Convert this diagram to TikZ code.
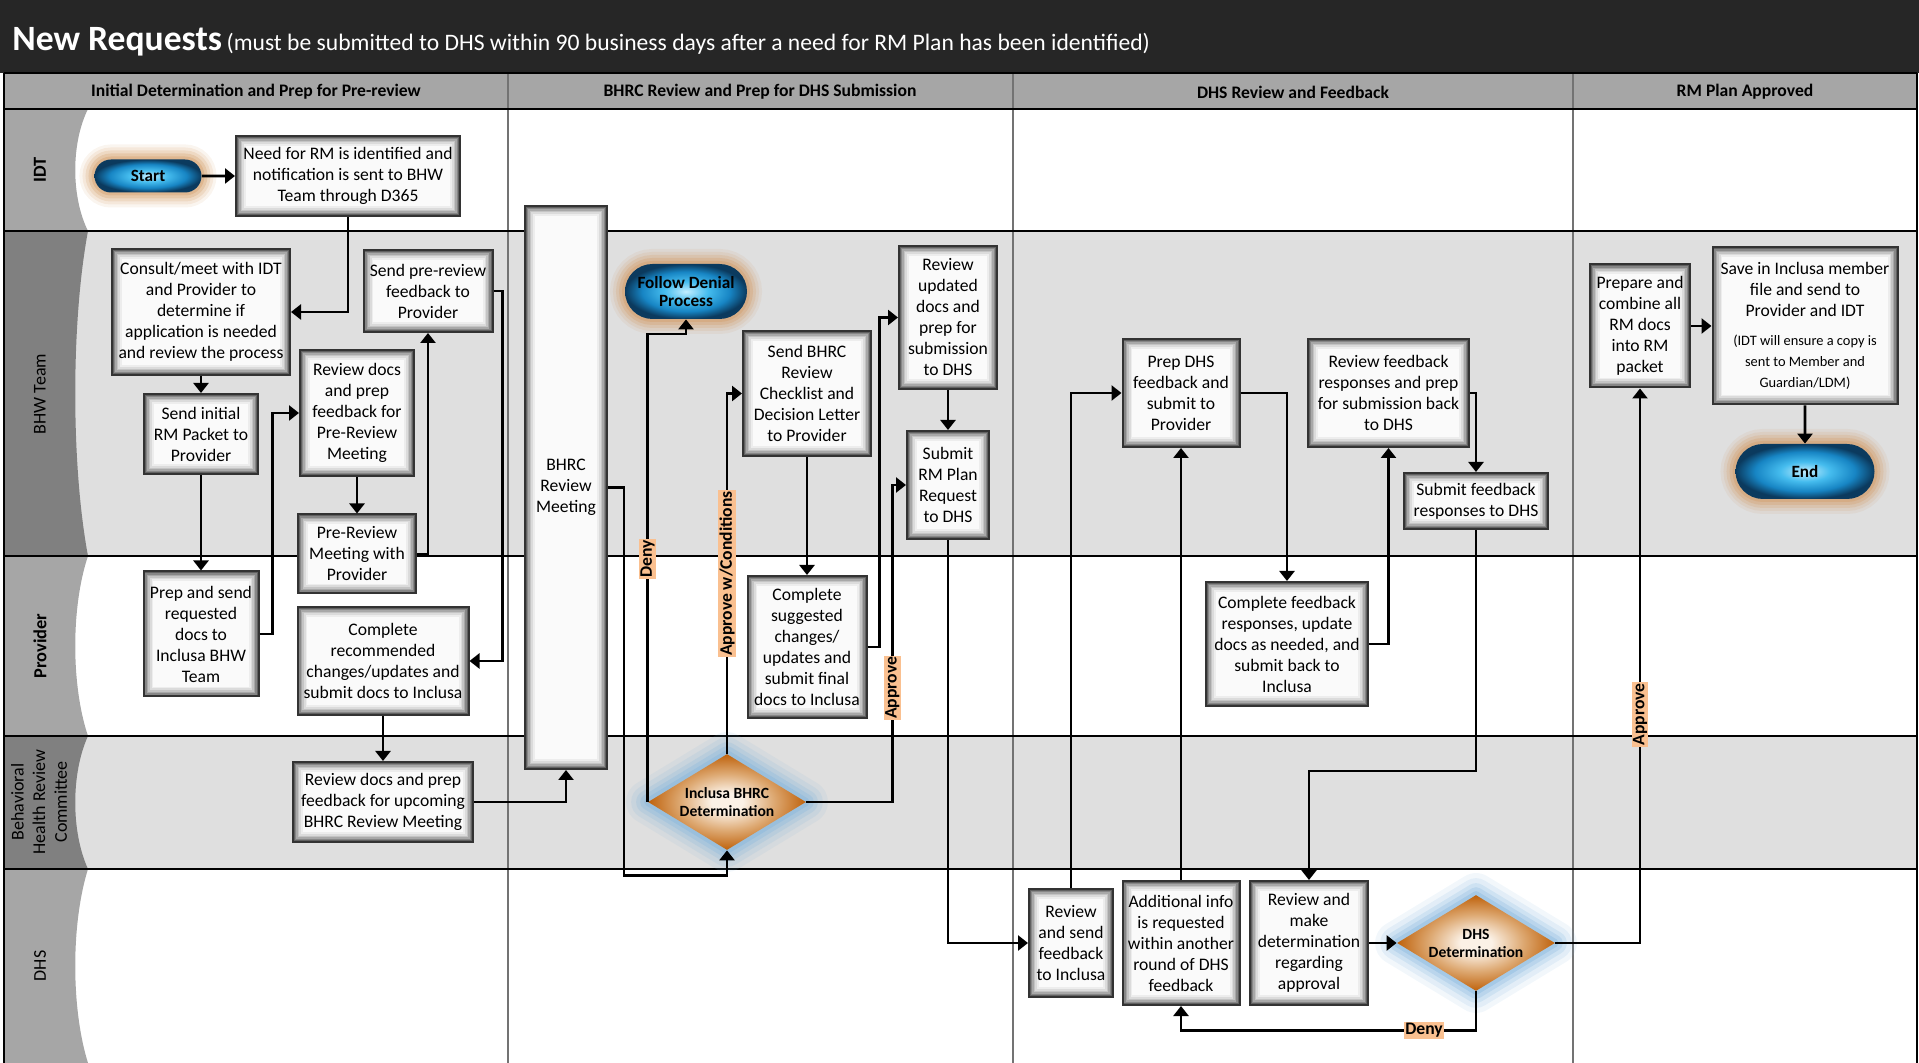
\documentclass[tikz,border=0pt]{standalone}
\usepackage{fontspec}
\setmainfont{Carlito}
\usepackage{tikz}
\usetikzlibrary{arrows.meta,shapes.geometric,shapes.misc}

\definecolor{titlebg}{HTML}{262626}
\definecolor{headbg}{HTML}{A6A6A6}
\definecolor{lanegray}{HTML}{DFDFDF}
\definecolor{lablight}{HTML}{A6A6A6}
\definecolor{labdark}{HTML}{808080}
\definecolor{labelorange}{HTML}{FAC090}
\definecolor{glowtan}{HTML}{D29A62}
\definecolor{glowblue}{HTML}{7FB2DC}
\definecolor{pillhi}{HTML}{C4EEFF}
\definecolor{pillmid}{HTML}{45BCEE}
\definecolor{pillblue}{HTML}{1785C4}
\definecolor{pilldark}{HTML}{0B3A5E}
\definecolor{dechi}{HTML}{FBF1E6}
\definecolor{decmid}{HTML}{DDA871}
\definecolor{decdark}{HTML}{BF620C}

\pgfdeclareradialshading{pillshade}{\pgfpoint{0bp}{0bp}}{color(0bp)=(pillhi); color(9bp)=(pillmid); color(18bp)=(pillblue); color(25bp)=(pilldark); color(50bp)=(pilldark)}
\pgfdeclareradialshading{decshade}{\pgfpoint{0bp}{0bp}}{color(0bp)=(dechi); color(5bp)=(dechi); color(15bp)=(decmid); color(25bp)=(decdark); color(50bp)=(decdark)}

\newcommand{\taskfont}{\fontsize{8.8}{10.5}\selectfont}
\newcommand{\notefont}{\fontsize{7.2}{9}\selectfont}

\tikzset{sz/.style 2 args={minimum width=#1*0.5pt,minimum height=#2*0.5pt}}
\tikzstyle{task}=[rectangle,draw=black!80,line width=1pt,align=center,
  font=\taskfont,inner sep=1pt,
  path picture={\foreach \d/\c in {0/62,0.8/47,1.6/34,2.4/23,3.2/14,4/7,4.8/2}
    \fill[black!\c] ([shift={(\d pt,\d pt)}]path picture bounding box.south west)
      rectangle ([shift={(-\d pt,-\d pt)}]path picture bounding box.north east);}]
\tikzstyle{decision}=[diamond,aspect=1.65,inner sep=0pt,shade,shading=decshade,
  align=center,font=\fontsize{7.8}{9}\selectfont\bfseries,line join=round,
  preaction={draw=glowblue,line width=22pt,draw opacity=0.1},
  preaction={draw=glowblue,line width=17pt,draw opacity=0.14},
  preaction={draw=glowblue,line width=12pt,draw opacity=0.2},
  preaction={draw=glowblue,line width=8pt,draw opacity=0.26},
  preaction={draw=glowblue,line width=4pt,draw opacity=0.35}]
\tikzstyle{terminal}=[rounded rectangle,inner sep=1pt,shade,shading=pillshade,
  align=center,font=\fontsize{8.6}{9}\selectfont\bfseries,
  preaction={draw=glowtan,line width=15pt,draw opacity=0.1},
  preaction={draw=glowtan,line width=12pt,draw opacity=0.14},
  preaction={draw=glowtan,line width=9pt,draw opacity=0.2},
  preaction={draw=glowtan,line width=6pt,draw opacity=0.27},
  preaction={draw=glowtan,line width=3pt,draw opacity=0.36}]
\tikzstyle{flow}=[draw=black,line width=1.3pt,-{Triangle[width=7.5pt,length=5pt]}]
\tikzstyle{flowlabel}=[fill=labelorange,inner sep=0.6pt,text=black,
  font=\fontsize{8.8}{9}\selectfont\bfseries]
\tikzstyle{lanename}=[rotate=90,align=center,font=\fontsize{9}{10.8}\selectfont]
\tikzstyle{lanebold}=[rotate=90,align=center,font=\fontsize{9.2}{10.8}\selectfont\bfseries]
\tikzstyle{colhead}=[font=\fontsize{8.8}{10}\selectfont\bfseries]
\tikzstyle{laneline}=[draw=black,line width=0.7pt]
\tikzstyle{colline}=[draw=black!55,line width=0.7pt]

\begin{document}
\begin{tikzpicture}[x=0.5pt,y=-0.5pt]
\useasboundingbox (0,0) rectangle (1919,1063);

% title and column heads
\fill[titlebg] (0,0) rectangle (1919,73);
\node[anchor=base west,text=white,inner sep=0pt] (title) at (12,51)
  {{\fontsize{17.8}{19}\selectfont\bfseries New Requests} \fontsize{11.8}{13}\selectfont(must be submitted to DHS within 90 business days after a need for RM Plan has been identified)};
\fill[headbg] (4,73) rectangle (1917,109);
\node[colhead] (c1) at (256,92) {Initial Determination and Prep for Pre-review};
\node[colhead] (c2) at (760,92) {BHRC Review and Prep for DHS Submission};
\node[colhead] (c3) at (1293,92) {DHS Review and Feedback};
\node[colhead] (c4) at (1745,92) {RM Plan Approved};

% lanes
\fill[lanegray] (4,231) rectangle (1917,556);
\fill[lanegray] (4,736) rectangle (1917,869);
\foreach \t/\b/\c in {109/231/lablight,231/556/labdark,556/736/lablight,736/869/labdark,869/1063/lablight}
  \fill[\c] (4,\t) -- (88,\t) .. controls (71,{\t+0.28*(\b-\t)}) and (71,{\b-0.28*(\b-\t)}) .. (88,\b) -- (4,\b) -- cycle;
\foreach \x in {508,1013,1573}
  \draw[colline] (\x,73) -- (\x,1063);
\foreach \y in {109,231,556,736,869}
  \draw[laneline] (4,\y) -- (1917,\y);
\draw[laneline] (4,73) -- (1917,73);
\draw[laneline] (4,73) -- (4,1063);
\draw[laneline] (1917,73) -- (1917,1063);

\node[lanebold] (l1) at (40,170) {IDT};
\node[lanename] (l2) at (40,394) {BHW Team};
\node[lanebold] (l3) at (40,646) {Provider};
\node[lanename] (l4) at (39,802) {Behavioral\\Health Review\\Committee};
\node[lanename] (l5) at (40,966) {DHS};

% steps
\node[terminal,sz={111}{33}] (n0) at (148,176) {Start};
\node[task,sz={224}{80}] (n1) at (348,176) {Need for RM is identified and\\notification is sent to BHW\\Team through D365};
\node[task,sz={178}{126}] (n2) at (201,312) {Consult/meet with IDT\\and Provider to\\determine if\\application is needed\\and review the process};
\node[task,sz={129}{82}] (n3) at (428,291) {Send pre-review\\feedback to\\Provider};
\node[task,sz={114}{80}] (n4) at (201,434) {Send initial\\RM Packet to\\Provider};
\node[task,sz={114}{126}] (n5) at (357,413) {Review docs\\and prep\\feedback for\\Pre-Review\\Meeting};
\node[task,sz={118}{79}] (n6) at (357,554) {Pre-Review\\Meeting with\\Provider};
\node[task,sz={115}{125}] (n7) at (201,634) {Prep and send\\requested\\docs to\\Inclusa BHW\\Team};
\node[task,sz={171}{108}] (n8) at (383,661) {Complete\\recommended\\changes/updates and\\submit docs to Inclusa};
\node[task,sz={180}{80}] (n9) at (383,802) {Review docs and prep\\feedback for upcoming\\BHRC Review Meeting};
\node[task,sz={82}{563}] (n10) at (566,487.5) {BHRC\\Review\\Meeting};
\node[decision,sz={158}{96}] (n11) at (727,802) {Inclusa BHRC\\Determination};
\node[terminal,sz={126}{55}] (n12) at (686,291.5) {Follow Denial\\Process};
\node[task,sz={128}{125}] (n13) at (807,393.5) {Send BHRC\\Review\\Checklist and\\Decision Letter\\to Provider};
\node[task,sz={119}{142}] (n14) at (807,647) {Complete\\suggested\\changes/\\updates and\\submit final\\docs to Inclusa};
\node[task,sz={98}{143}] (n15) at (948,317.5) {Review\\updated\\docs and\\prep for\\submission\\to DHS};
\node[task,sz={82}{108}] (n16) at (948,485) {Submit\\RM Plan\\Request\\to DHS};
\node[task,sz={117}{108}] (n17) at (1181,393) {Prep DHS\\feedback and\\submit to\\Provider};
\node[task,sz={161}{108}] (n18) at (1388.5,393) {Review feedback\\responses and prep\\for submission back\\to DHS};
\node[task,sz={144}{56}] (n19) at (1476,501) {Submit feedback\\responses to DHS};
\node[task,sz={162}{124}] (n20) at (1287,644) {Complete feedback\\responses, update\\docs as needed, and\\submit back to\\Inclusa};
\node[task,sz={84}{108}] (n21) at (1071,943) {Review\\and send\\feedback\\to Inclusa};
\node[task,sz={117}{124}] (n22) at (1181,943) {Additional info\\is requested\\within another\\round of DHS\\feedback};
\node[task,sz={118}{124}] (n23) at (1309,943) {Review and\\make\\determination\\regarding\\approval};
\node[decision,sz={158}{96}] (n24) at (1476,943) {DHS\\Determination};
\node[task,sz={100}{123}] (n25) at (1640,326) {Prepare and\\combine all\\RM docs\\into RM\\packet};
\node[task,sz={185}{157}] (n26) at (1805,326) {Save in Inclusa member\\file and send to\\Provider and IDT\\[4pt]\notefont(IDT will ensure a copy is\\\notefont sent to Member and\\\notefont Guardian/LDM)};
\node[terminal,sz={143}{55}] (n27) at (1805,471.5) {End};

% connectors
\path[flow] (n0) edge (n1);
\draw[flow] (n1.south) |- (n2.east);
\path[flow] (n2) edge (n4);
\path[flow] (n4) edge (n7);
\draw[flow] (n7.east) -- ++(13,0) |- (n5.west);
\path[flow] (n5) edge (n6);
\draw[flow] (n6.east) -| (n3.south);
\draw[flow] (n3.east) -- ++(9,0) |- (n8.east);
\path[flow] (n8) edge (n9);
\draw[flow] (n9.east) -| (n10.south);
\draw[flow] (n10.east) -- ++(16,0) -- ++(0,388) -| (n11.south);
\draw[flow] (n11.west) -- ++(0,-468) node[flowlabel,rotate=90,pos=0.52] {Deny} -| (n12.south);
\draw[flow] (n11.north) |- (n13.west) node[flowlabel,rotate=90,pos=0.25] {Approve w/Conditions};
\path[flow] (n13) edge (n14);
\draw[flow] (n14.east) -- ++(12,0) |- (n15.west);
\draw[flow] (n11.east) -- ++(86,0) |- (n16.west) node[flowlabel,rotate=90,pos=0.18] {Approve};
\path[flow] (n15) edge (n16);
\draw[flow] (n16.south) |- (n21.west);
\draw[flow] (n21.north) |- (n17.west);
\path[flow] (n22) edge (n17);
\draw[flow] (n17.east) -| (n20.north);
\draw[flow] (n20.east) -| (n18.south);
\draw[flow] (n18.east) -| (n19.north);
\draw[flow] (n19.south) -- ++(0,241) -| (n23.north);
\path[flow] (n23) edge (n24);
\draw[flow] (n24.south) -- ++(0,39) -| (n22.south) node[flowlabel,pos=0.088] {Deny};
\draw[flow] (n24.east) -| (n25.south) node[flowlabel,rotate=90,pos=0.706] {Approve};
\path[flow] (n25) edge (n26);
\path[flow] (n26) edge (n27);
\end{tikzpicture}
\end{document}
